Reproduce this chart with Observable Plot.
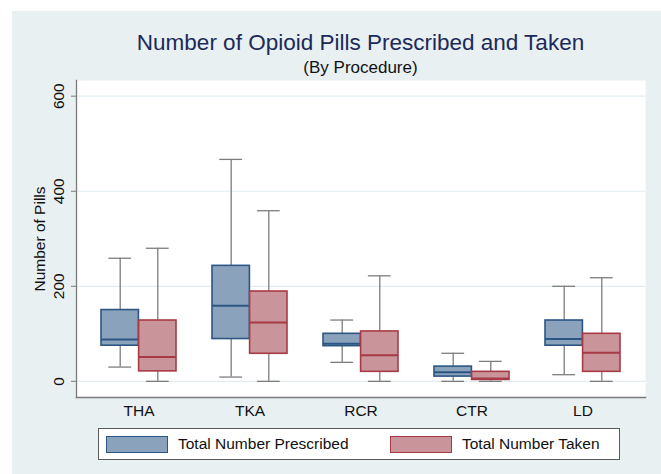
<!DOCTYPE html>
<html>
<head>
<meta charset="utf-8">
<script src="https://cdn.jsdelivr.net/npm/d3@7"></script>
<script src="https://cdn.jsdelivr.net/npm/@observablehq/plot@0.6"></script>
<style>
  html, body { margin: 0; padding: 0; background: #ffffff; }
  body { width: 661px; height: 474px; position: relative; overflow: hidden;
         font-family: "Liberation Sans", Arial, Helvetica, sans-serif; }
  #panel { position: absolute; left: 12px; top: 11px; right: 0; bottom: 0; background: #e9f0f2; }
  #title { position: absolute; left: 76px; width: 569px; top: 31px; text-align: center;
           font-size: 22.5px; line-height: 24px; color: #1b2a58; white-space: nowrap; }
  #subtitle { position: absolute; left: 76px; width: 569px; top: 58px; text-align: center;
              font-size: 17px; line-height: 20px; color: #111; white-space: nowrap; }
  #chart { position: absolute; left: 0; top: 0; }
  #legend { position: absolute; left: 98px; top: 428px; width: 520px; height: 30px;
            background: #fff; border: 1px solid #5a5a5a; }
  .item { position: absolute; top: 0; height: 30px; display: flex; align-items: center; }
  .swatch { width: 60px; height: 15px; border-width: 1.5px; border-style: solid; margin-right: 10px; }
  .item span { font-size: 15.5px; color: #111; }
</style>
</head>
<body>
<div id="panel"></div>
<div id="title">Number of Opioid Pills Prescribed and Taken</div>
<div id="subtitle">(By Procedure)</div>
<div id="chart"></div>
<div id="legend"></div>
<script>
// Procedures on the x axis
const procedures = ["THA", "TKA", "RCR", "CTR", "LD"];
const seriesNames = ["Total Number Prescribed", "Total Number Taken"];

// Box summaries: lower whisker, first quartile, median, third quartile, upper whisker
const prescribedMin = [30, 9, 40, 0, 14];
const prescribedQ1  = [75, 89, 74, 10, 75];
const prescribedMed = [88, 159, 79, 19, 89];
const prescribedQ3  = [150, 243, 100, 31, 128];
const prescribedMax = [259, 467, 129, 59, 200];

const takenMin = [0, 0, 0, 0, 0];
const takenQ1  = [21, 58, 20, 3, 20];
const takenMed = [51, 124, 55, 6, 60];
const takenQ3  = [128, 189, 105, 20, 100];
const takenMax = [280, 359, 222, 42, 218];

const yTicks = [0, 200, 400, 600];
const yTitle = "Number of Pills";

const fills = ["#8ba2bc", "#c9959a"];
const strokes = ["#2b5683", "#a83a46"];
const whiskerColor = "#7d7d7d";

function rows(mins, q1s, meds, q3s, maxs) {
  return procedures.map((p, i) => ({
    procedure: p, min: mins[i], q1: q1s[i], median: meds[i], q3: q3s[i], max: maxs[i]
  }));
}
const series = [
  rows(prescribedMin, prescribedQ1, prescribedMed, prescribedQ3, prescribedMax),
  rows(takenMin, takenQ1, takenMed, takenQ3, takenMax)
];

// Layout
const width = 661, height = 430;
const marginLeft = 76, marginRight = 16, marginTop = 80, marginBottom = 33;
const paddingInner = 0.327, paddingOuter = 0.21;
const band = d3.scaleBand(procedures, [marginLeft, width - marginRight])
  .paddingInner(paddingInner).paddingOuter(paddingOuter);
const half = band.bandwidth() / 2;
const capInset = (half - 23) / 2;

const marks = [
  Plot.frame({fill: "white", stroke: "none"}),
  Plot.gridY(yTicks, {stroke: "#e1ecf0", strokeOpacity: 1, strokeWidth: 1.2})
];

series.forEach((data, s) => {
  const left = s === 0;
  const offset = left ? -half / 2 : half / 2;
  const boxInset = left ? {insetRight: half} : {insetLeft: half};
  const capInsets = left
    ? {insetLeft: capInset, insetRight: half + capInset}
    : {insetLeft: half + capInset, insetRight: capInset};
  marks.push(
    Plot.ruleX(data, {x: "procedure", y1: "min", y2: "max", dx: offset, stroke: whiskerColor, strokeWidth: 1.3}),
    Plot.tickY(data, {x: "procedure", y: "min", ...capInsets, stroke: whiskerColor, strokeWidth: 1.3}),
    Plot.tickY(data, {x: "procedure", y: "max", ...capInsets, stroke: whiskerColor, strokeWidth: 1.3}),
    Plot.barY(data, {x: "procedure", y1: "q1", y2: "q3", ...boxInset, fill: fills[s], stroke: strokes[s], strokeWidth: 1.6}),
    Plot.tickY(data, {x: "procedure", y: "median", ...boxInset, stroke: strokes[s], strokeWidth: 2})
  );
});

marks.push(
  Plot.frame({anchor: "left", stroke: "#7a7a7a", strokeWidth: 1.3}),
  Plot.frame({anchor: "bottom", stroke: "#7a7a7a", strokeWidth: 1.3}),
  Plot.axisY({ticks: yTicks, tickSize: 5, tickPadding: 8, tickRotate: -90, stroke: "#7a7a7a",
    label: null, fontSize: 15.5}),
  Plot.text([yTitle], {frameAnchor: "left", textAnchor: "middle", rotate: -90, dx: -36, fontSize: 15.5, fill: "#111"}),
  Plot.axisX({tickSize: 0, tickPadding: 7, label: null, fontSize: 15.5})
);

const chart = Plot.plot({
  width, height, marginLeft, marginRight, marginTop, marginBottom,
  style: {background: "transparent", fontFamily: "'Liberation Sans', Arial, sans-serif", fontSize: "14px", color: "#111"},
  x: {type: "band", domain: procedures, paddingInner, paddingOuter, axis: null},
  y: {domain: [-34, 633], axis: null},
  marks
});
document.getElementById("chart").append(chart);

// Legend below the plot
const legend = document.getElementById("legend");
const legendLefts = [7, 291];
seriesNames.forEach((name, s) => {
  const item = document.createElement("div");
  item.className = "item";
  item.style.left = legendLefts[s] + "px";
  const sw = document.createElement("div");
  sw.className = "swatch";
  sw.style.background = fills[s];
  sw.style.borderColor = strokes[s];
  const label = document.createElement("span");
  label.textContent = name;
  item.append(sw, label);
  legend.append(item);
});
</script>
</body>
</html>
